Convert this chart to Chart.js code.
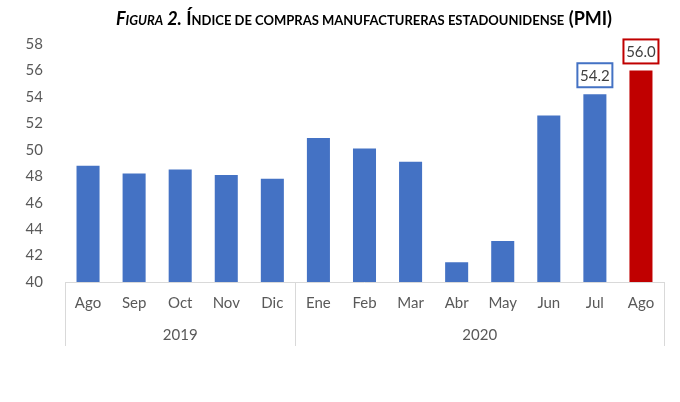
<!DOCTYPE html>
<html><head><meta charset="utf-8">
<script src="https://cdn.jsdelivr.net/npm/chart.js@4.4.0/dist/chart.umd.min.js"></script>
<style>
html,body{margin:0;padding:0;background:#fff;overflow:hidden;}
#wrap{position:relative;width:680px;height:402px;overflow:hidden;}
#title{position:absolute;left:24px;top:7px;width:680px;text-align:center;font-family:Lato,"Open Sans",sans-serif;font-weight:bold;font-size:18px;color:#000;white-space:nowrap;}
#title i{font-style:italic;}
#title .s{font-size:13px;}
canvas{position:absolute;left:0;top:0;}
</style></head><body>
<div id="wrap">
<canvas id="c" width="680" height="402"></canvas>
<div id="title"><i>F<span class="s">IGURA</span> 2.</i> Í<span class="s">NDICE DE COMPRAS MANUFACTURERAS ESTADOUNIDENSE</span> (PMI)</div>
</div>
<script>
const months = ["Ago","Sep","Oct","Nov","Dic","Ene","Feb","Mar","Abr","May","Jun","Jul","Ago"];
const years = ["2019","2020"];
const yearSpans = [5, 8];
const pmi = [48.8, 48.2, 48.5, 48.1, 47.8, 50.9, 50.1, 49.1, 41.5, 43.1, 52.6, 54.2, 56.0];
const yTicks = [40,42,44,46,48,50,52,54,56,58];
const highlighted = [{index:11, color:"#4472C4"}, {index:12, color:"#C00000"}];

const BLUE = "#4472C4", RED = "#C00000", GRAY = "#595959", LINE = "#D9D9D9";
const colors = pmi.map((v,i)=> i===pmi.length-1 ? RED : BLUE);

const overlay = {
  id:"overlay",
  afterDraw(chart){
    const ctx = chart.ctx, x = chart.scales.x, y = chart.scales.y, ca = chart.chartArea;
    ctx.save();
    ctx.strokeStyle = LINE; ctx.lineWidth = 1;
    ctx.beginPath(); ctx.moveTo(ca.left, Math.round(ca.bottom)+0.5); ctx.lineTo(ca.right, Math.round(ca.bottom)+0.5); ctx.stroke();
    const step = (x.getPixelForValue(1) - x.getPixelForValue(0));
    let start = 0;
    const bottomY = ca.bottom + 64;
    const bounds = [x.getPixelForValue(0) - step/2];
    yearSpans.forEach((n,k)=>{
      const end = start + n;
      const right = x.getPixelForValue(end-1) + step/2;
      bounds.push(right);
      const cx = (x.getPixelForValue(start) - step/2 + right)/2;
      ctx.fillStyle = GRAY; ctx.font = "15px Lato, 'Open Sans', sans-serif";
      ctx.textAlign = "center"; ctx.textBaseline = "middle";
      ctx.fillText(years[k], cx, ca.bottom + 53);
      start = end;
    });
    bounds.forEach(b=>{
      const xx = Math.round(b)+0.5;
      ctx.beginPath(); ctx.moveTo(xx, ca.bottom); ctx.lineTo(xx, bottomY); ctx.stroke();
    });
    ctx.font = "15px Lato, 'Open Sans', sans-serif";
    highlighted.forEach(h=>{
      const cx = x.getPixelForValue(h.index);
      const top = y.getPixelForValue(pmi[h.index]);
      const w = 35, hgt = 24;
      const bx = cx - w/2, by = top - 7 - hgt;
      ctx.fillStyle = "#fff"; ctx.fillRect(bx, by, w, hgt);
      ctx.strokeStyle = h.color; ctx.lineWidth = 2;
      ctx.strokeRect(bx, by, w, hgt);
      ctx.fillStyle = "#404040"; ctx.textAlign = "center"; ctx.textBaseline = "middle";
      ctx.fillText(pmi[h.index].toFixed(1), cx, by + hgt/2 + 1);
    });
    ctx.restore();
  }
};

new Chart(document.getElementById("c"), {
  type:"bar",
  data:{labels:months, datasets:[{data:pmi, backgroundColor:colors, barPercentage:0.5, categoryPercentage:1.0}]},
  options:{
    responsive:false, animation:false,
    layout:{padding:{top:44, right:16, left:0, bottom:0}},
    plugins:{legend:{display:false}, tooltip:{enabled:false}},
    scales:{
      x:{
        grid:{display:false, drawTicks:false}, border:{display:false},
        ticks:{color:GRAY, font:{size:15, family:"Lato, 'Open Sans', sans-serif"}, padding:12, maxRotation:0, autoSkip:false},
        afterFit(s){ s.height = 120; }
      },
      y:{
        min:40, max:58,
        grid:{display:false}, border:{display:false},
        afterBuildTicks(s){ s.ticks = yTicks.map(v=>({value:v})); },
        ticks:{color:GRAY, font:{size:15, family:"Lato, 'Open Sans', sans-serif"}, padding:14},
        afterFit(s){ s.width = 65; }
      }
    }
  },
  plugins:[overlay]
});
</script>
</body></html>
